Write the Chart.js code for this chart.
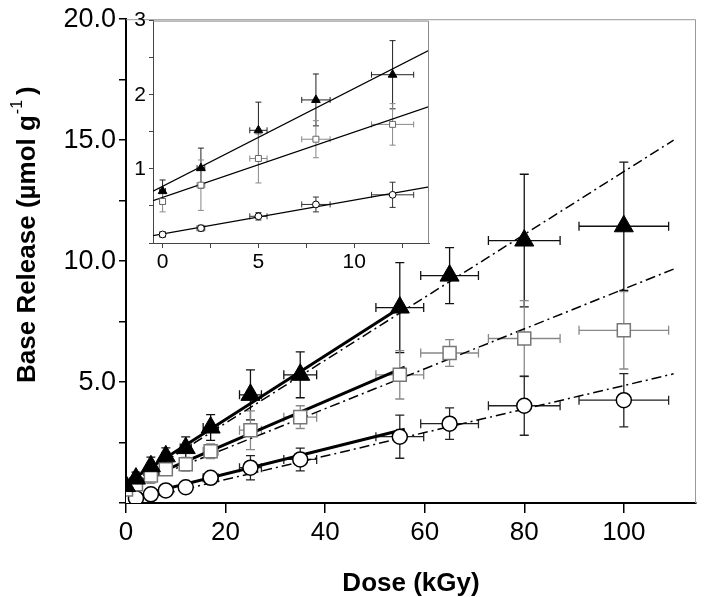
<!DOCTYPE html>
<html>
<head>
<meta charset="utf-8">
<script src="https://cdn.jsdelivr.net/npm/chart.js@4/dist/chart.umd.min.js"></script>
<style>
  html, body { margin: 0; padding: 0; background: #fff; }
  #wrap { position: relative; width: 708px; height: 597px; }
  #main { position: absolute; left: 0; top: 0; }
  #inset { position: absolute; left: 125px; top: 5px; }
</style>
</head>
<body>
<div id="wrap">
  <canvas id="main" width="708" height="597"></canvas>
  <canvas id="inset" width="315" height="275"></canvas>
</div>
<script>
// dose (kGy) and its uncertainty
var doses   = [0, 2, 5, 8, 12, 17, 25, 35, 55, 65, 80, 100];
var doseErr = [0.15, 0.2, 0.45, 0.74, 1.1, 1.5, 2.2, 3.3, 4.8, 5.8, 7.2, 9.0];

// base release (umol/g), three series
var triangleVals = [0.70, 1.01, 1.52, 1.93, 2.27, 3.12, 4.47, 5.30, 8.08, 9.40, 10.85, 11.44];
var triangleErr  = [0.15, 0.27, 0.38, 0.35, 0.46, 0.53, 1.03, 0.95, 1.86, 1.16, 2.74, 2.65];
var squareVals   = [0.56, 0.78, 1.14, 1.40, 1.60, 2.14, 3.01, 3.55, 5.30, 6.20, 6.80, 7.14];
var squareErr    = [0.14, 0.34, 0.33, 0.25, 0.28, 0.30, 0.80, 0.47, 1.00, 0.55, 1.57, 1.60];
var circleVals   = [0.115, 0.20, 0.36, 0.52, 0.65, 1.04, 1.46, 1.80, 2.74, 3.28, 4.02, 4.25];
var circleErr    = [0.03, 0.04, 0.05, 0.10, 0.17, 0.20, 0.50, 0.47, 0.89, 0.65, 1.22, 1.10];

// inset shows the first five doses
var insetCount = 5;

// fitted lines, end points
var triangleFit   = [[0, 0.82], [54.5, 8.0]];
var squareFit     = [[0, 0.66], [56, 5.62]];
var circleFit     = [[0, 0.17], [56, 3.05]];
var triangleTrend = [[0, 0.70], [110, 15.0]];
var squareTrend   = [[0, 0.60], [110, 9.67]];
var circleTrend   = [[0, 0.00], [110, 5.34]];
var insetTriangleFit = [[-0.5, 0.70], [13.9, 2.60]];
var insetSquareFit   = [[-0.5, 0.57], [13.9, 1.84]];
var insetCircleFit   = [[-0.5, 0.10], [13.9, 0.756]];

// axis ticks and titles
var mainYLabels = [5, 10, 15, 20];
var mainXLabels = [0, 20, 40, 60, 80, 100];
var insetYLabels = [1, 2, 3];
var insetXLabels = [0, 5, 10];
var xTitle = 'Dose (kGy)';
var yTitleMain = 'Base Release (\u00b5mol g';
var yTitleSup = '-1';
var yTitleEnd = ')';

var FONT = '"Liberation Sans", Arial, Helvetica, sans-serif';

function pts(xs, ys, n){ var out = []; for (var i = 0; i < (n || xs.length); i++) out.push({ x: xs[i], y: ys[i] }); return out; }
function line(p){ return p.map(function(q){ return { x: q[0], y: q[1] }; }); }

var errorBars = {
  id: 'errorBars',
  beforeDatasetsDraw: function(chart, args, opts){
    var ctx = chart.ctx, xs = chart.scales.x, ys = chart.scales.y, a = chart.chartArea;
    ctx.save();
    ctx.beginPath(); ctx.rect(a.left, a.top - 10, a.right - a.left + 10, a.bottom - a.top + 10); ctx.clip();
    ctx.lineWidth = opts.width;
    opts.sets.forEach(function(s){
      ctx.strokeStyle = s.color;
      for (var i = 0; i < s.n; i++) {
        var px = xs.getPixelForValue(doses[i]);
        var yT = ys.getPixelForValue(s.y[i] + s.e[i]), yB = ys.getPixelForValue(s.y[i] - s.e[i]);
        var py = ys.getPixelForValue(s.y[i]);
        var xL = xs.getPixelForValue(doses[i] - doseErr[i]), xR = xs.getPixelForValue(doses[i] + doseErr[i]);
        var c = opts.cap;
        ctx.beginPath();
        ctx.moveTo(px, yT); ctx.lineTo(px, yB);
        ctx.moveTo(px - c, yT); ctx.lineTo(px + c, yT);
        ctx.moveTo(px - c, yB); ctx.lineTo(px + c, yB);
        ctx.moveTo(xL, py); ctx.lineTo(xR, py);
        ctx.moveTo(xL, py - c); ctx.lineTo(xL, py + c);
        ctx.moveTo(xR, py - c); ctx.lineTo(xR, py + c);
        ctx.stroke();
      }
    });
    ctx.restore();
  }
};

var frame = {
  id: 'frame',
  afterDraw: function(chart, args, opts){
    var ctx = chart.ctx, a = chart.chartArea;
    ctx.save();
    ctx.strokeStyle = opts.color; ctx.lineWidth = 1;
    ctx.beginPath();
    ctx.moveTo(a.left, a.top + 0.5); ctx.lineTo(a.right - 0.5, a.top + 0.5); ctx.lineTo(a.right - 0.5, a.bottom);
    ctx.stroke();
    ctx.restore();
  }
};

var yTitle = {
  id: 'yTitle',
  afterDraw: function(chart){
    var ctx = chart.ctx;
    ctx.save();
    ctx.translate(35, 383);
    ctx.rotate(-Math.PI / 2);
    ctx.fillStyle = '#000';
    ctx.textAlign = 'left';
    ctx.textBaseline = 'alphabetic';
    ctx.font = 'bold 26px ' + FONT;
    ctx.fillText(yTitleMain, 0, 0);
    var x = ctx.measureText(yTitleMain).width + 1;
    ctx.font = '16px ' + FONT;
    ctx.fillText(yTitleSup, x, -13);
    x += ctx.measureText(yTitleSup).width + 5;
    ctx.font = 'bold 26px ' + FONT;
    ctx.fillText(yTitleEnd, x, 0);
    ctx.restore();
  }
};

function markerSet(data, style, r, n){
  return {
    data: pts(doses, data, n),
    pointStyle: style,
    pointRadius: r,
    pointHoverRadius: r,
    clip: { left: 0, top: false, right: false, bottom: 0 }
  };
}

function lineSet(p, width, dash){
  return {
    data: line(p), showLine: true, pointRadius: 0, borderColor: '#000',
    borderWidth: width, borderDash: dash || [], fill: false
  };
}

function initMain(){
  var tri = markerSet(triangleVals, 'triangle', 11);
  tri.backgroundColor = '#000'; tri.borderColor = '#000'; tri.borderWidth = 1;
  var sq = markerSet(squareVals, 'rect', 9.2);
  sq.backgroundColor = '#fff'; sq.borderColor = '#777'; sq.borderWidth = 1.5;
  var ci = markerSet(circleVals, 'circle', 7.5);
  ci.backgroundColor = '#fff'; ci.borderColor = '#000'; ci.borderWidth = 1.5;

  var dash = [10, 4, 2, 4];
  new Chart(document.getElementById('main').getContext('2d'), {
    type: 'scatter',
    data: { datasets: [
      tri, sq, ci,
      lineSet(triangleFit, 3), lineSet(squareFit, 3), lineSet(circleFit, 3),
      lineSet(triangleTrend, 1.5, dash), lineSet(squareTrend, 1.5, dash), lineSet(circleTrend, 1.5, dash)
    ] },
    options: {
      responsive: false, animation: false, events: [],
      layout: { padding: { top: 7, right: 5, left: 0, bottom: 0 } },
      plugins: {
        legend: { display: false }, tooltip: { enabled: false },
        errorBars: { width: 1.3, cap: 4.5, sets: [
          { y: triangleVals, e: triangleErr, color: '#111', n: doses.length },
          { y: squareVals, e: squareErr, color: '#888', n: doses.length },
          { y: circleVals, e: circleErr, color: '#222', n: doses.length }
        ] },
        frame: { color: '#999' }
      },
      scales: {
        x: {
          type: 'linear', min: 0, max: 114.5,
          afterFit: function(s){ s.height = 94; },
          border: { color: '#000', width: 2 },
          grid: { drawOnChartArea: false, drawTicks: true, tickLength: 10, color: '#000', lineWidth: 1.5 },
          ticks: { stepSize: 20, includeBounds: false, color: '#000', padding: 4, maxRotation: 0,
            font: { family: FONT, size: 26 },
            callback: function(v){ return mainXLabels.indexOf(v) >= 0 ? String(v) : ''; } },
          title: { display: true, text: xTitle, color: '#000', padding: 0,
            font: { family: FONT, size: 26, weight: 'bold', lineHeight: 1 } }
        },
        y: {
          type: 'linear', min: 0, max: 20,
          afterFit: function(s){ s.width = 126; },
          border: { color: '#000', width: 2 },
          grid: { drawOnChartArea: false, drawTicks: true, tickLength: 7, color: '#000', lineWidth: 1.5 },
          ticks: { stepSize: 2.5, color: '#000', padding: 3,
            font: { family: FONT, size: 27 },
            callback: function(v){ return mainYLabels.indexOf(v) >= 0 ? v.toFixed(1) : ''; } }
        }
      }
    },
    plugins: [errorBars, frame, yTitle]
  });
}

function initInset(){
  var tri = markerSet(triangleVals, 'triangle', 5, insetCount);
  tri.backgroundColor = '#000'; tri.borderColor = '#000'; tri.borderWidth = 1;
  var sq = markerSet(squareVals, 'rect', 4.2, insetCount);
  sq.backgroundColor = '#fff'; sq.borderColor = '#666'; sq.borderWidth = 1;
  var ci = markerSet(circleVals, 'circle', 3.4, insetCount);
  ci.backgroundColor = '#fff'; ci.borderColor = '#000'; ci.borderWidth = 1;
  tri.clip = sq.clip = ci.clip = false;

  new Chart(document.getElementById('inset').getContext('2d'), {
    type: 'scatter',
    data: { datasets: [
      tri, sq, ci,
      lineSet(insetTriangleFit, 1.3), lineSet(insetSquareFit, 1.3), lineSet(insetCircleFit, 1.3)
    ] },
    options: {
      responsive: false, animation: false, events: [],
      layout: { padding: { top: 12, right: 11, left: 0, bottom: 0 } },
      plugins: {
        legend: { display: false }, tooltip: { enabled: false },
        errorBars: { width: 1, cap: 3, sets: [
          { y: triangleVals, e: triangleErr, color: '#222', n: insetCount },
          { y: squareVals, e: squareErr, color: '#888', n: insetCount },
          { y: circleVals, e: circleErr, color: '#333', n: insetCount }
        ] },
        frame: { color: '#888' }
      },
      scales: {
        x: {
          type: 'linear', min: -0.5, max: 13.9,
          afterFit: function(s){ s.height = 37; },
          border: { color: '#444', width: 1 },
          grid: { drawOnChartArea: false, drawTicks: true, tickLength: 5, color: '#444', lineWidth: 1 },
          ticks: { stepSize: 2.5, includeBounds: false, color: '#000', padding: 2, maxRotation: 0,
            font: { family: FONT, size: 21 },
            callback: function(v){ return insetXLabels.indexOf(v) >= 0 ? String(v) : ''; } }
        },
        y: {
          type: 'linear', min: 0, max: 3,
          afterFit: function(s){ s.width = 28; },
          border: { color: '#444', width: 1 },
          grid: { drawOnChartArea: false, drawTicks: true, tickLength: 4, color: '#444', lineWidth: 1 },
          ticks: { stepSize: 0.5, color: '#000', padding: 3,
            font: { family: FONT, size: 21 },
            callback: function(v){ return insetYLabels.indexOf(v) >= 0 ? String(v) : ''; } }
        }
      }
    },
    plugins: [errorBars, frame]
  });
}

initMain();
initInset();
</script>
</body>
</html>
